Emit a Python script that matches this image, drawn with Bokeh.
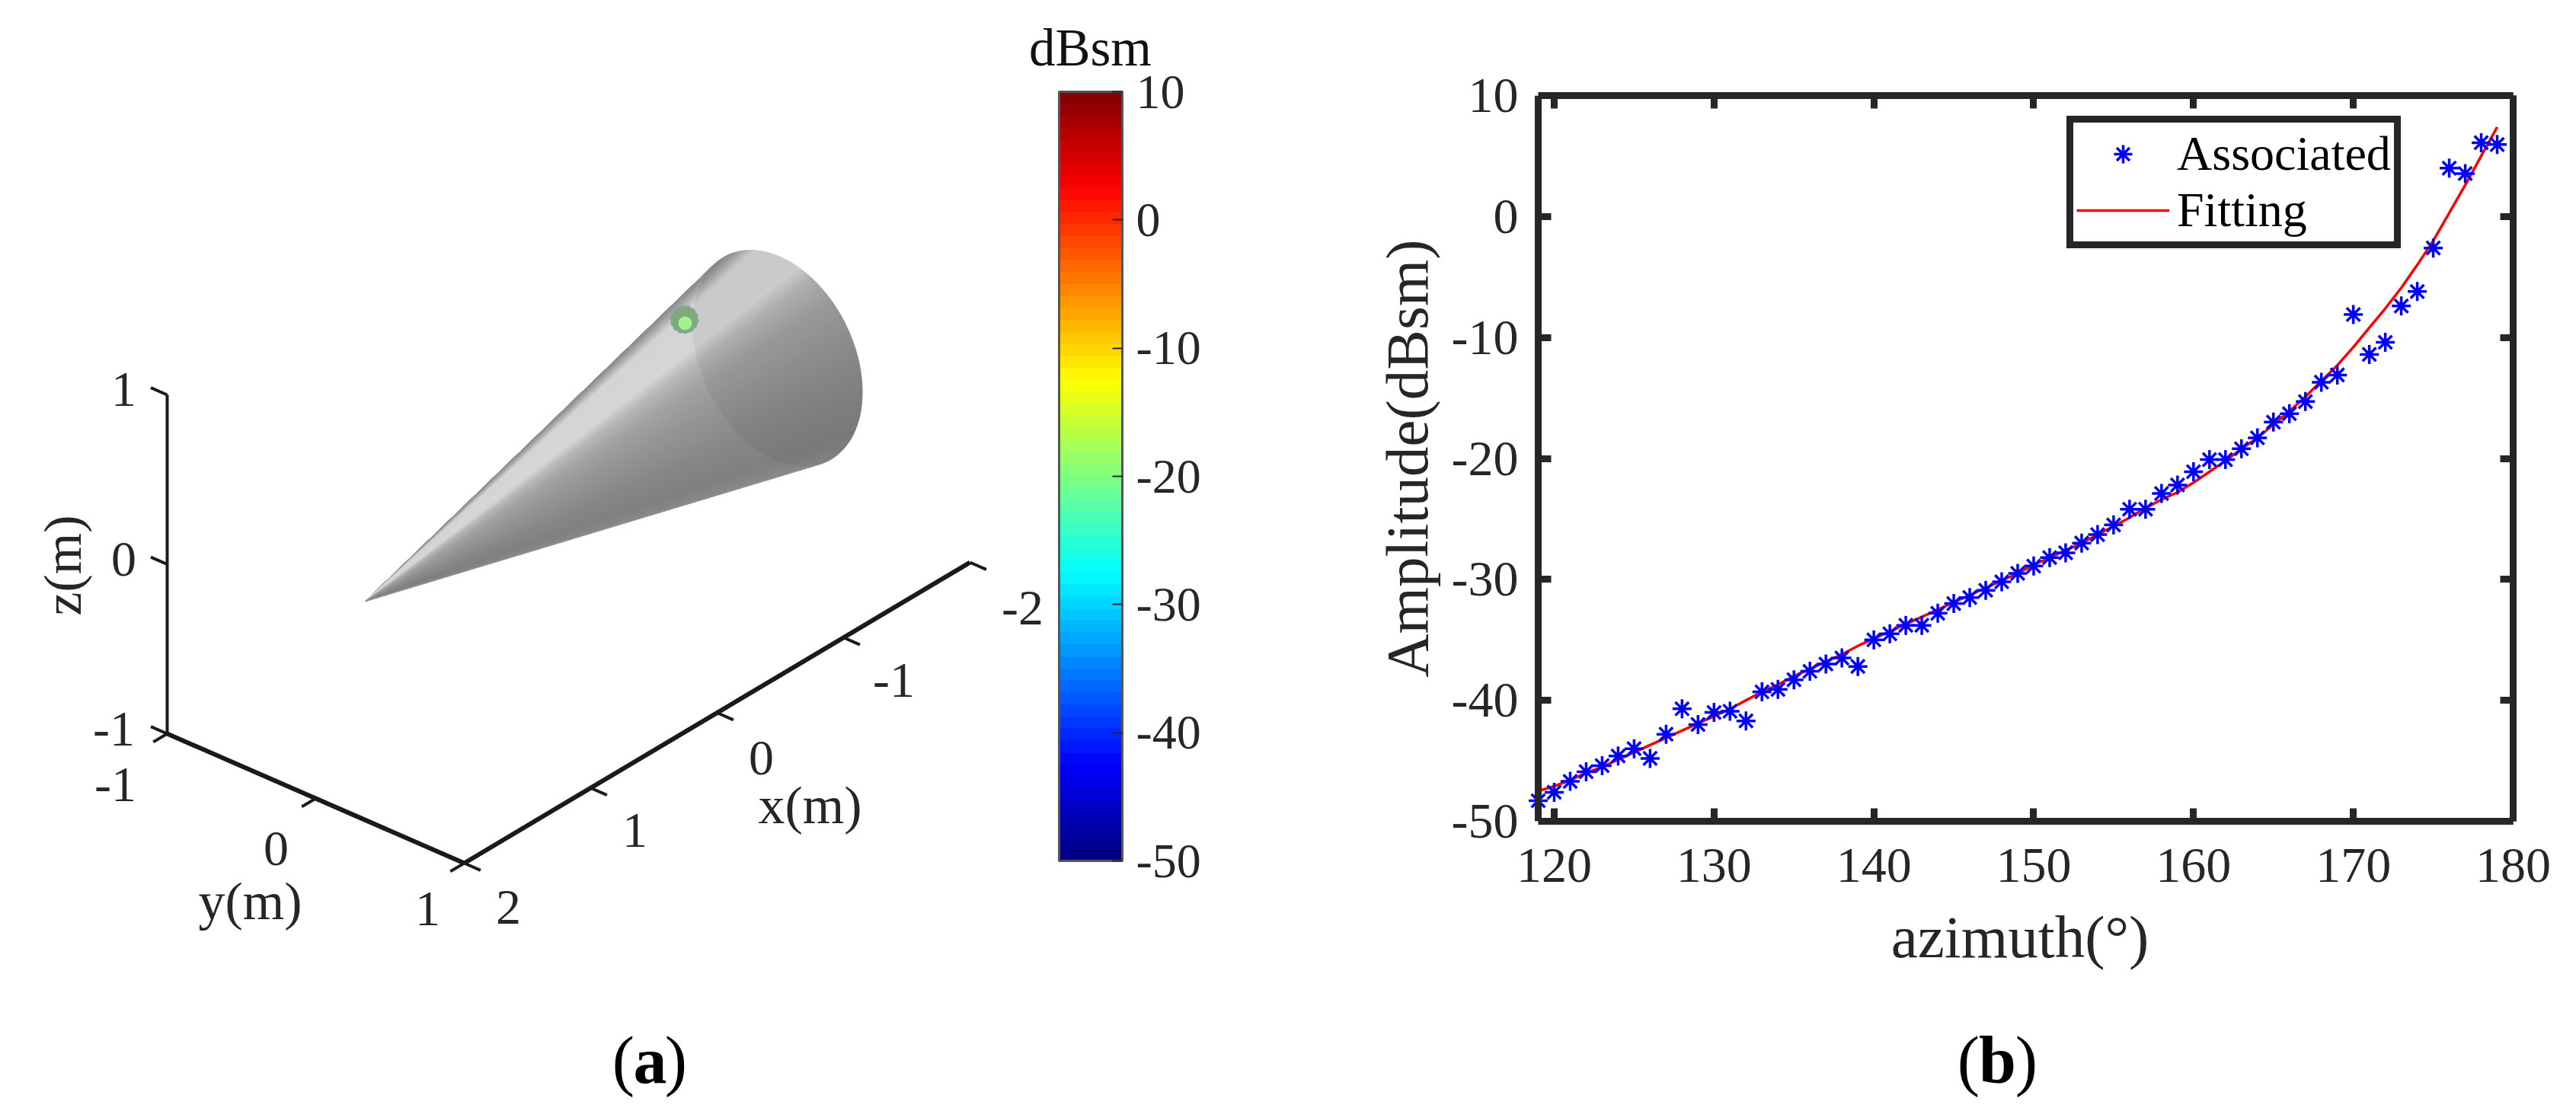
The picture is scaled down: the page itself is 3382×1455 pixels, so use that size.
from bokeh.plotting import figure
from bokeh.embed import file_html
from bokeh.resources import INLINE
from bokeh.layouts import row, column
from bokeh.models import (Range1d, LinearAxis, FixedTicker, Legend, LegendItem,
                          ColorBar, LinearColorMapper)
from bokeh.core.properties import value
import numpy as np

# ---------- panel (b) data ----------
azimuth = list(range(119, 180))
amplitude = [-48.3, -47.6, -46.7, -45.9, -45.4, -44.6, -44.0, -44.8, -42.8, -40.7,
             -42.0, -41.0, -40.9, -41.7, -39.3, -39.1, -38.3, -37.6, -37.0, -36.5,
             -37.2, -35.0, -34.5, -33.8, -33.8, -32.8, -32.0, -31.5, -30.9, -30.2,
             -29.5, -28.9, -28.2, -27.8, -27.0, -26.3, -25.5, -24.2, -24.2, -22.9,
             -22.2, -21.1, -20.1, -20.1, -19.2, -18.3, -17.0, -16.3, -15.3, -13.7,
             -13.1, -8.1, -11.4, -10.4, -7.4, -6.2, -2.6, 4.0, 3.55, 6.1, 5.95]
fit_amp = [-47.5, -47.1, -46.6, -46.0, -45.5, -44.9, -44.3, -43.7, -43.1, -42.5,
           -41.9, -41.3, -40.7, -40.0, -39.3, -38.7, -38.0, -37.4, -36.8, -36.2,
           -35.5, -34.9, -34.3, -33.7, -33.1, -32.5, -31.9, -31.3, -30.7, -30.1,
           -29.5, -28.8, -28.2, -27.6, -27.0, -26.3, -25.6, -24.9, -24.1, -23.4,
           -22.8, -22.0, -21.1, -20.2, -19.2, -18.3, -17.2, -16.1, -14.9, -13.6,
           -12.3, -10.8, -9.2, -7.6, -5.9, -4.0, -2.0, 0.3, 2.6, 5.0, 7.4]
x_ticks = [120, 130, 140, 150, 160, 170, 180]
y_ticks = [-50, -40, -30, -20, -10, 0, 10]

# ---------- panel (a) data ----------
cbar_ticks = [-50, -40, -30, -20, -10, 0, 10]
axis3d_ticks_x = [2, 1, 0, -1, -2]
axis3d_ticks_y = [-1, 0, 1]
axis3d_ticks_z = [-1, 0, 1]
shade_t = [200, 180, 170, 160, 130, 120, 105, 90, 60, 30, 0, -10]
shade_g = [136, 146, 172, 212, 214, 184, 162, 152, 136, 128, 138, 150]

INK = "#262626"
FONT = "Liberation Serif"
hy = {t: str(t) for t in y_ticks}

def project(x, y, z):
    px = 609 + (2 - x) * 166 + (y - 1) * 195
    py = 1133 - (2 - x) * 98.75 + (y - 1) * 85 - (z + 1) * 222.5
    return px, py

PA_W = 1700
H = 1340
W = 3366
pa = figure(width=PA_W, height=H, output_backend="svg", toolbar_location=None, frame_align=False,
            x_range=Range1d(0, PA_W), y_range=Range1d(H, 0), min_border=0)
pa.axis.visible = False
pa.grid.visible = False
pa.outline_line_color = None

# cone
apex = (479, 789)
C = np.array([1020., 470.]); A = np.array([66., 135.]); B = np.array([90., -44.])
def ring(tdeg):
    t = np.radians(tdeg)
    return C + A * np.cos(t) + B * np.sin(t)
ts = np.linspace(200, -10, 106)
gs = np.interp(ts, shade_t[::-1], shade_g[::-1])
xs, ys, cols = [], [], []
for i in range(len(ts) - 1):
    p0, p1 = ring(ts[i]), ring(ts[i + 1])
    xs.append([apex[0], p0[0], p1[0]]); ys.append([apex[1], p0[1], p1[1]])
    g = int(gs[i]); cols.append(f"#{g:02x}{g:02x}{g:02x}")
pa.patches(xs, ys, fill_color=cols, line_color=cols, line_width=1)
ell = np.array([ring(v) for v in np.linspace(0, 360, 181)])
pa.patch(ell[:, 0], ell[:, 1], fill_color="#000000", fill_alpha=0.05, line_color=None)
# scattering centre
pa.scatter([898], [419], size=36, fill_color="#80aa78", line_color="#7ba4d8", line_width=2, line_dash="4 4")
pa.scatter([899], [424], size=18, fill_color="#a4f094", line_color=None)

# 3D axes
def seg(a, b, w):
    pa.line([a[0], b[0]], [a[1], b[1]], line_color="#1a1a1a", line_width=w)
seg(project(2, -1, -1), project(2, -1, 1), 4)
seg(project(2, -1, -1), project(2, 1, -1), 6)
seg(project(2, 1, -1), project(-2, 1, -1), 6)
for z in axis3d_ticks_z:
    seg(project(2, -1, z), project(2, -1.11, z), 4)
for y in axis3d_ticks_y:
    seg(project(2, y, -1), project(2.11, y, -1), 4)
for x in axis3d_ticks_x:
    seg(project(x, 1, -1), project(x, 1.11, -1), 4)

def txt(fig, x, y, s, size=66, angle=0, style="normal", color=INK):
    fig.text([x], [y], text=[s], text_font=value(FONT), text_font_size=f"{size}px", text_color=color,
             text_align="center", text_baseline="middle", angle=angle, text_font_style=style)
for s, x, y in [("1", 162, 511), ("0", 162, 734), ("-1", 149, 957), ("-1", 151, 1030), ("0", 362, 1114),
                ("1", 561, 1193), ("2", 667, 1191), ("1", 833, 1090), ("0", 999, 995), ("-1", 1173, 893),
                ("-2", 1342, 798)]:
    txt(pa, x, y, s)
txt(pa, 1063, 1057, "x(m)", 70)
txt(pa, 328, 1183, "y(m)", 70)
txt(pa, 82, 742, "z(m)", 70, angle=np.pi / 2)
txt(pa, 1431, 62, "dBsm", 69, color="#111111")

# colour bar
def jet(v):
    r = np.clip(min(4 * v - 1.5, -4 * v + 4.5), 0, 1)
    g = np.clip(min(4 * v - 0.5, -4 * v + 3.5), 0, 1)
    b = np.clip(min(4 * v + 0.5, -4 * v + 2.5), 0, 1)
    return "#%02x%02x%02x" % (int(r * 255), int(g * 255), int(b * 255))
palette = [jet((i + .5) / 64) for i in range(64)]
cm = LinearColorMapper(palette=palette, low=-50, high=10)
cb = ColorBar(color_mapper=cm, location=(1390, H - 1130), width=83, height=1010,
              ticker=FixedTicker(ticks=cbar_ticks), padding=0, margin=0,
              major_label_overrides={t: str(t) for t in cbar_ticks},
              major_label_text_font=FONT, major_label_text_font_size="64px", major_label_text_color=INK,
              major_tick_in=13, major_tick_line_color=INK, major_tick_line_width=2,
              bar_line_color="#555555", bar_line_width=3, label_standoff=18, background_fill_alpha=0)
pa.add_layout(cb)

# ---------- panel (b) ----------
PAD = 15  # frame reaches this many pixels left of the spine so that the first marker stays whole
x0 = 119 - PAD / 21
pb = figure(width=W - PA_W, height=H, output_backend="svg", toolbar_location=None, frame_align=False,
            x_range=Range1d(x0, 180), y_range=Range1d(-50, 10),
            min_border_left=2019 - PAD - PA_W, min_border_right=W - 3299, min_border_top=125, min_border_bottom=H - 1078)
pb.grid.visible = False
pb.outline_line_color = None
def style(ax):
    ax.axis_line_color = INK; ax.axis_line_width = 9
    ax.major_tick_line_color = INK; ax.major_tick_line_width = 9
    ax.major_tick_in = 17; ax.major_tick_out = 0
    ax.minor_tick_line_color = None
    ax.major_label_text_font = FONT; ax.major_label_text_font_size = "66px"
    ax.major_label_text_color = INK
    ax.axis_label_text_font = FONT; ax.axis_label_text_font_size = "79px"
    ax.axis_label_text_font_style = "normal"; ax.axis_label_text_color = INK
pb.xaxis.ticker = FixedTicker(ticks=x_ticks)
pb.yaxis.ticker = FixedTicker(ticks=y_ticks)
pb.yaxis.major_label_overrides = hy
pb.xaxis.axis_label = "azimuth(°)"; pb.yaxis.axis_label = "Amplitude(dBsm)"
style(pb.xaxis[0]); style(pb.yaxis[0])
pb.xaxis.major_label_standoff = 36
pb.xaxis.axis_label_standoff = 26
pb.xaxis.bounds = (119, 180)
# the labelled left axis keeps only its texts; its spine and ticks are the fixed axis added below
pb.yaxis.axis_line_color = None
pb.yaxis.major_tick_line_color = None
pb.yaxis.major_tick_in = 0
pb.yaxis.major_label_standoff = 11
pb.yaxis.axis_label_standoff = 12
for side, tk in (("above", x_ticks), ("right", y_ticks)):
    ax = LinearAxis(ticker=FixedTicker(ticks=tk), major_label_overrides={t: "" for t in tk})
    style(ax)
    if side == "above":
        ax.bounds = (119, 180)
    pb.add_layout(ax, side)
spine = LinearAxis(ticker=FixedTicker(ticks=y_ticks), major_label_overrides={t: "" for t in y_ticks},
                   fixed_location=119)
style(spine)
spine.major_tick_in = 0
spine.major_tick_out = 17
pb.add_layout(spine, "right")

rl = pb.line(azimuth, fit_amp, line_color="#ff0000", line_width=3.5)
rs = pb.scatter(azimuth, amplitude, marker="asterisk", size=25, line_color="#0000ff", line_width=3.5)
leg = Legend(items=[LegendItem(label="Associated", renderers=[rs]), LegendItem(label="Fitting", renderers=[rl])],
             location=(2713 - 2019 + PAD, 1078 - 326), orientation="vertical",
             label_text_font=FONT, label_text_font_size="64px", label_text_color="#000000",
             glyph_width=122, glyph_height=60, label_standoff=10, spacing=-7, padding=4, margin=0,
             border_line_color=INK, border_line_width=9, border_line_alpha=1,
             background_fill_color="#ffffff", background_fill_alpha=1)
pb.add_layout(leg)

# ---------- captions ----------
cap = figure(width=W, height=110, output_backend="svg", toolbar_location=None, frame_align=False,
             x_range=Range1d(0, W), y_range=Range1d(H + 110, H), min_border=0)
cap.axis.visible = False
cap.grid.visible = False
cap.outline_line_color = None
for s, x, st in (("(", 818, "normal"), ("a", 853, "bold"), (")", 887, "normal"),
                 ("(", 2584, "normal"), ("b", 2622, "bold"), (")", 2660, "normal")):
    txt(cap, x, 1392, s, 88, style=st, color="#000000")

open("out.html", "w").write(file_html(column(row(pa, pb, spacing=0), cap, spacing=0), INLINE))
